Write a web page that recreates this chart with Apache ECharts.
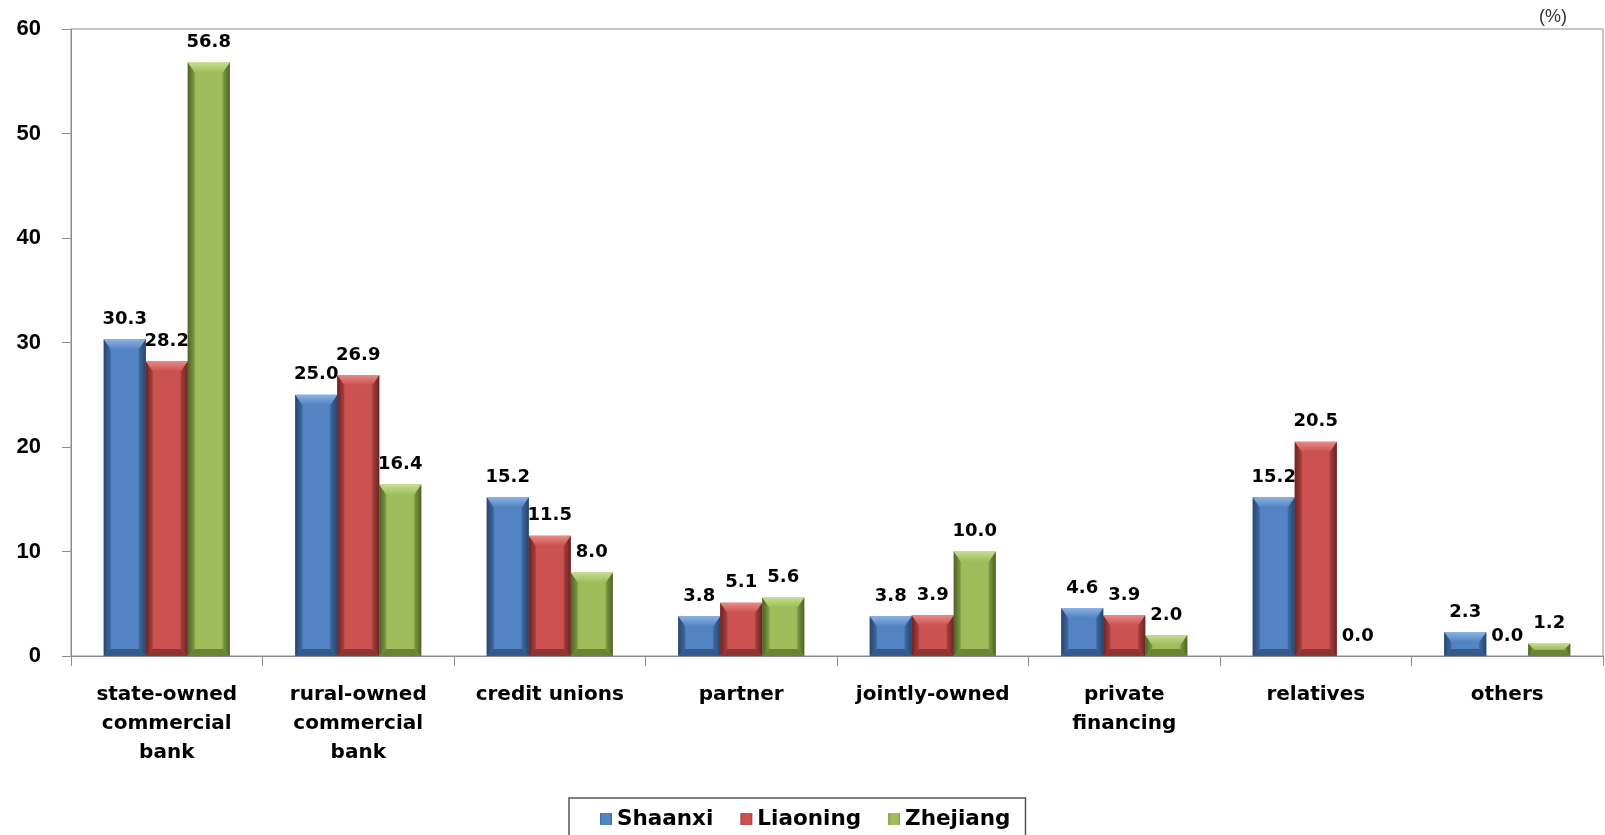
<!DOCTYPE html>
<html>
<head>
<meta charset="utf-8">
<title>Loan sources by province</title>
<script src="https://cdn.jsdelivr.net/npm/echarts@6/dist/echarts.min.js"></script>
<style>
  html, body { margin: 0; padding: 0; background: #ffffff; }
  #chart { width: 1605px; height: 835px; }
</style>
</head>
<body>
<div id="chart"></div>
<script>
// Loan sources, share of households (%)
const categories = [
  'state-owned\ncommercial\nbank',
  'rural-owned\ncommercial\nbank',
  'credit unions',
  'partner',
  'jointly-owned',
  'private\nfinancing',
  'relatives',
  'others'
];
const shaanxi  = [30.3, 25.0, 15.2, 3.8, 3.8, 4.6, 15.2, 2.3];
const liaoning = [28.2, 26.9, 11.5, 5.1, 3.9, 3.9, 20.5, 0.0];
const zhejiang = [56.8, 16.4, 8.0, 5.6, 10.0, 2.0, 0.0, 1.2];
const yTicks = [0, 10, 20, 30, 40, 50, 60];

const BAR_W = 42;

// Face, highlight and shadow tones per province
const tones = {
  Shaanxi:  { face: '#5284c3', edge: '#3d6aa3', light: '#8db2e2', dark: '#27456d', bottom: '#34598a' },
  Liaoning: { face: '#cb5250', edge: '#a8403f', light: '#e68a88', dark: '#6a2423', bottom: '#8e3433' },
  Zhejiang: { face: '#9dbd5b', edge: '#7f9c45', light: '#c6dd8e', dark: '#4e6226', bottom: '#6b8434' }
};

function faceGradient(t) {
  return new echarts.graphic.LinearGradient(0, 0, 1, 0, [
    { offset: 0, color: t.edge },
    { offset: 0.2, color: t.face },
    { offset: 0.5, color: t.face },
    { offset: 0.8, color: t.face },
    { offset: 1, color: t.edge }
  ]);
}

const labelStyle = {
  show: true,
  position: 'top',
  distance: 11,
  color: '#000',
  fontFamily: 'DejaVu Sans',
  fontWeight: 'bold',
  fontSize: 18,
  formatter: p => p.value.toFixed(1)
};

function barSeries(name, values) {
  return {
    name: name,
    type: 'bar',
    data: values,
    barWidth: BAR_W,
    barGap: '0%',
    itemStyle: { color: faceGradient(tones[name]) },
    label: labelStyle,
    emphasis: { disabled: true }
  };
}

// Bevelled rim drawn over each column: lit top cap, shaded sides and base
function bevelSeries(name, values, slot) {
  const t = tones[name];
  return {
    name: name + ' rim',
    type: 'custom',
    silent: true,
    z: 3,
    data: values.map((v, i) => [i, v]),
    encode: { x: 0, y: 1 },
    renderItem: function (params, api) {
      const v = api.value(1);
      if (!(v > 0)) return null;
      const topPt = api.coord([api.value(0), v]);
      const basePt = api.coord([api.value(0), 0]);
      const cx = topPt[0] + (slot - 1) * BAR_W;
      const l = cx - BAR_W / 2, r = cx + BAR_W / 2;
      const top = topPt[1], bot = basePt[1];
      const h = bot - top;
      const b = Math.min(7, h / 2);
      const cap = Math.min(10, h / 2);
      return {
        type: 'group',
        children: [
          { type: 'polygon', shape: { points: [[l, top], [l + b, top + cap], [l + b, bot - b], [l, bot]] },
            style: { fill: new echarts.graphic.LinearGradient(0, 0, 1, 0, [
              { offset: 0, color: t.dark }, { offset: 1, color: t.edge }]) } },
          { type: 'polygon', shape: { points: [[r, top], [r, bot], [r - b, bot - b], [r - b, top + cap]] },
            style: { fill: new echarts.graphic.LinearGradient(0, 0, 1, 0, [
              { offset: 0, color: t.edge }, { offset: 1, color: t.dark }]) } },
          { type: 'polygon', shape: { points: [[l + b, bot - b], [r - b, bot - b], [r, bot], [l, bot]] },
            style: { fill: t.bottom } },
          { type: 'polygon', shape: { points: [[l, top], [r, top], [r - b, top + cap], [l + b, top + cap]] },
            style: { fill: new echarts.graphic.LinearGradient(0, 0, 0, 1, [
              { offset: 0, color: t.light }, { offset: 1, color: t.face }]) } }
        ]
      };
    }
  };
}

const chart = echarts.init(document.getElementById('chart'), null, { renderer: 'canvas' });
chart.setOption({
  animation: false,
  backgroundColor: '#ffffff',
  grid: {
    left: 71, right: 2, top: 29, bottom: 179,
    show: true, borderColor: '#8c8c8c', borderWidth: 1
  },
  legend: {
    data: ['Shaanxi', 'Liaoning', 'Zhejiang'],
    left: 569, top: 798,
    padding: [10, 15, 30, 31],
    itemGap: 27,
    itemWidth: 12, itemHeight: 12,
    icon: 'rect',
    borderColor: '#555', borderWidth: 1.5,
    textStyle: { fontFamily: 'DejaVu Sans', fontWeight: 'bold', fontSize: 21.5, color: '#000' }
  },
  graphic: [{
    type: 'text',
    left: 1539, top: 8,
    style: { text: '(%)', fontFamily: 'Liberation Sans', fontSize: 18, fill: '#333' }
  }],
  xAxis: {
    type: 'category',
    data: categories,
    boundaryGap: true,
    axisLine: { lineStyle: { color: '#8c8c8c', width: 1 } },
    axisTick: { show: true, alignWithLabel: false, length: 10, lineStyle: { color: '#8c8c8c' } },
    axisLabel: {
      interval: 0, margin: 24,
      fontFamily: 'DejaVu Sans', fontWeight: 'bold', fontSize: 20,
      lineHeight: 29, color: '#000'
    }
  },
  yAxis: {
    type: 'value',
    min: yTicks[0], max: yTicks[yTicks.length - 1], interval: 10,
    splitLine: { show: false },
    axisLine: { show: true, lineStyle: { color: '#8c8c8c', width: 1 } },
    axisTick: { show: true, length: 9, lineStyle: { color: '#8c8c8c' } },
    axisLabel: {
      margin: 30,
      fontFamily: 'Liberation Sans', fontWeight: 'bold', fontSize: 22, color: '#000'
    }
  },
  series: [
    barSeries('Shaanxi', shaanxi),
    barSeries('Liaoning', liaoning),
    barSeries('Zhejiang', zhejiang),
    bevelSeries('Shaanxi', shaanxi, 0),
    bevelSeries('Liaoning', liaoning, 1),
    bevelSeries('Zhejiang', zhejiang, 2)
  ]
});
</script>
</body>
</html>
